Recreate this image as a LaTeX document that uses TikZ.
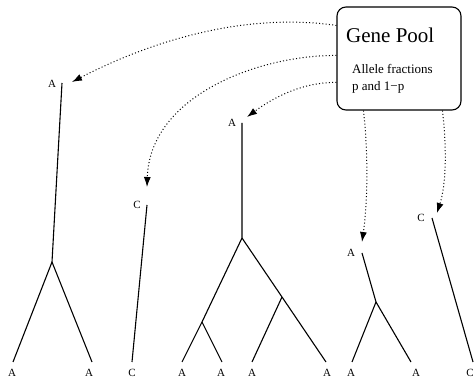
\documentclass[tikz,border=0pt]{standalone}
\usepackage{fontspec}
\setmainfont{Liberation Serif}
\usetikzlibrary{arrows.meta}
\begin{document}
\begin{tikzpicture}[x=1pt,y=-1pt,
  edge/.style={line width=1.1pt},
  lab/.style={font=\fontsize{11}{13}\selectfont, inner sep=0pt},
  gene/.style={dash pattern=on 1pt off 2.3pt, line width=1pt, -{Latex[length=10pt,width=7pt]}},
  poolbox/.style={draw, rounded corners=9pt, line width=1.1pt, minimum width=124pt, minimum height=103pt, inner sep=0pt}
]
\useasboundingbox (0,0) rectangle (474,379);

% gene pool box
\node[poolbox] (pool) at (399,58.5) {};
\node[anchor=base west, inner sep=0pt, font=\fontsize{21}{24}\selectfont] (title) at (346,43) {Gene Pool};
\node[anchor=base west, inner sep=0pt, font=\fontsize{13}{15}\selectfont] (frac) at (352,73.5) {Allele fractions};
\node[anchor=base west, inner sep=0pt, font=\fontsize{13}{15}\selectfont] (pq) at (352,91) {p and 1−p};

% tree 1
\coordinate (t1) at (62,83);
\node[lab] (lt1) at (52,84) {A};
\coordinate (j1) at (52,262);
\coordinate (e1a) at (13,362);
\coordinate (e1b) at (92,362);
\node[lab] (l1a) at (12,373) {A};
\node[lab] (l1b) at (89,373) {A};
\draw[edge] (t1) -- (j1) -- (e1a);
\draw[edge] (j1) -- (e1b);

% tree 2
\coordinate (t2) at (147,205);
\node[lab] (lt2) at (137,205) {C};
\coordinate (e2) at (132,362);
\node[lab] (l2) at (132,373) {C};
\draw[edge] (t2) -- (e2);

% tree 3
\coordinate (t3) at (242,123);
\node[lab] (lt3) at (232,123) {A};
\coordinate (j3) at (242,238);
\coordinate (j3a) at (202,322);
\coordinate (j3b) at (282,297);
\coordinate (e3a) at (182,362);
\coordinate (e3b) at (222,362);
\coordinate (e3c) at (252,362);
\coordinate (e3d) at (326,362);
\node[lab] (l3a) at (182,373) {A};
\node[lab] (l3b) at (221,373) {A};
\node[lab] (l3c) at (252,373) {A};
\node[lab] (l3d) at (327,373) {A};
\draw[edge] (t3) -- (j3) -- (j3a) -- (e3a);
\draw[edge] (j3a) -- (e3b);
\draw[edge] (j3) -- (j3b) -- (e3d);
\draw[edge] (j3b) -- (e3c);

% tree 4
\coordinate (t4) at (362,253);
\node[lab] (lt4) at (351,253) {A};
\coordinate (j4) at (376,302);
\coordinate (e4a) at (352,362);
\coordinate (e4b) at (411,362);
\node[lab] (l4a) at (351,373) {A};
\node[lab] (l4b) at (416,373) {A};
\draw[edge] (t4) -- (j4) -- (e4a);
\draw[edge] (j4) -- (e4b);

% tree 5
\coordinate (t5) at (432,218);
\node[lab] (lt5) at (421,218) {C};
\coordinate (e5) at (473,362);
\node[lab] (l5) at (470,373) {C};
\draw[edge] (t5) -- (e5);

% arrow targets
\coordinate (a1) at (72,82);
\coordinate (a2) at (147,187);
\coordinate (a3) at (247,117);
\coordinate (a4) at (362,242);
\coordinate (a5) at (437,213);

% dotted arrows from the gene pool
\draw[gene] ([yshift=-19pt]pool.north west) .. controls (230,10) and (130,52) .. (a1);
\draw[gene] ([yshift=-49pt]pool.north west) .. controls (260,55) and (150,95) .. (a2);
\draw[gene] ([yshift=-76pt]pool.north west) .. controls (300,82) and (270,100) .. (a3);
\draw[gene] ([xshift=27pt]pool.south west) .. controls (368,150) and (368,200) .. (a4);
\draw[gene] ([xshift=106pt]pool.south west) .. controls (447,150) and (446,185) .. (a5);
\end{tikzpicture}
\end{document}
